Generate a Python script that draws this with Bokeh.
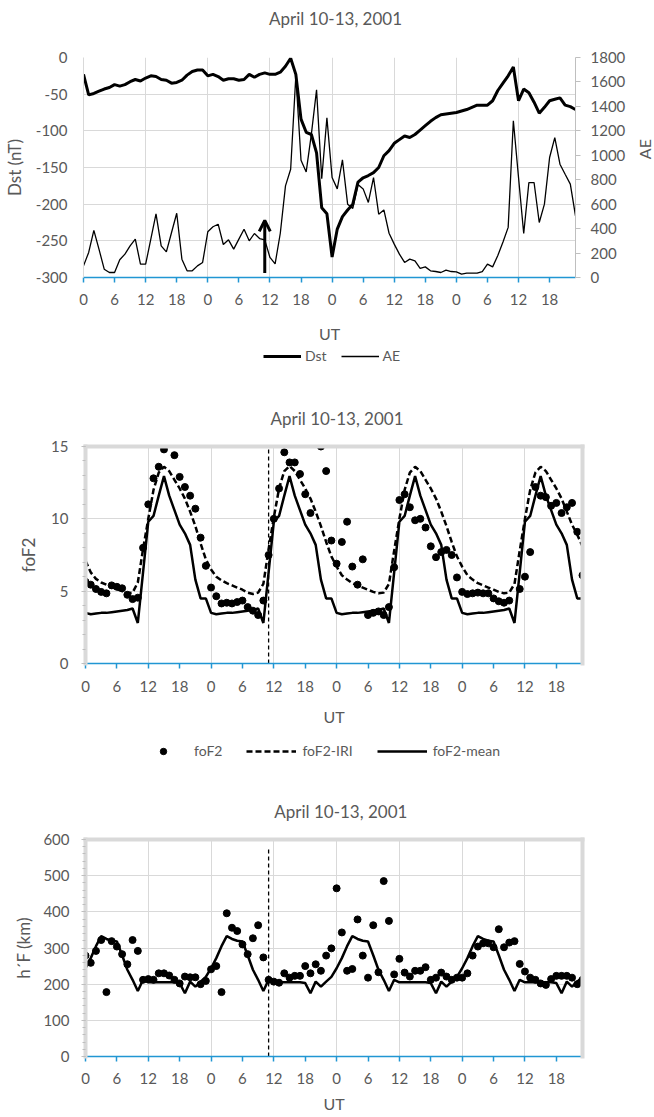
import math
from bokeh.plotting import figure
from bokeh.models import (LinearAxis, Range1d, FixedTicker, SingleIntervalTicker,
                          Legend, Arrow, OpenHead)
from bokeh.layouts import column, row
from bokeh.core.properties import value
from bokeh.embed import file_html
from bokeh.resources import INLINE

FONT = "Lato"
TEXT = "#595959"
GRID = "#d9d9d9"
FRAME = "#d9d9d9"
TICKGRAY = "#bfbfbf"
BLUE = "#2196d3"
W = 654

# ---------------- data ----------------
hours = list(range(96))
x_ticks = list(range(0, 96, 6))
x_tick_labels = ["0", "6", "12", "18", "0", "6", "12", "18",
                 "0", "6", "12", "18", "0", "6", "12", "18"]
x_grid = list(range(0, 96, 12))
title_text = "April 10-13, 2001"

dst_ticks = [-300, -250, -200, -150, -100, -50, 0]
dst_tick_labels = ["-300", "-250", "-200", "-150", "-100", "-50", "0"]
ae_ticks = [0, 200, 400, 600, 800, 1000, 1200, 1400, 1600, 1800]

dst = [-23, -51, -49, -46, -43, -41, -37, -39, -37, -33, -30, -32,
       -28, -25, -26, -30, -31, -35, -34, -31, -24, -19, -17, -17,
       -25, -23, -26, -31, -29, -29, -31, -30, -23, -27, -23, -21,
       -23, -23, -20, -12, -1, -23, -84, -102, -105, -130, -205, -213,
       -272, -234, -217, -208, -200, -170, -164, -161, -157, -150, -134, -127,
       -117, -112, -107, -109, -105, -99, -93, -87, -82, -78, -77, -76,
       -75, -73, -71, -68, -65, -65, -65, -59, -45, -35, -25, -13,
       -59, -43, -48, -61, -76, -68, -59, -57, -55, -65, -67, -71]

ae = [95, 205, 385, 230, 68, 41, 41, 145, 191, 259, 314, 109,
      109, 314, 520, 259, 210, 368, 526, 150, 55, 55, 95, 123,
      374, 415, 436, 270, 308, 232, 314, 395, 300, 360, 319, 308,
      164, 112, 362, 750, 886, 1650, 960, 864, 1173, 1535, 808, 1306,
      818, 725, 963, 600, 565, 760, 725, 614, 818, 518, 553, 362,
      273, 191, 123, 150, 136, 74, 87, 55, 49, 41, 60, 49,
      46, 27, 35, 35, 35, 49, 109, 87, 180, 290, 410, 1282,
      818, 360, 777, 777, 450, 600, 982, 1145, 927, 845, 764, 505]

onset_hour = 35
arrow_dst_start = -294
arrow_dst_end = -222

fof2_obs = [5.65, 5.45, 5.15, 4.95, 4.85, 5.4, 5.3, 5.2, 4.75, 4.45, 4.55, 8.0,
            11.0, 12.8, 13.6, 14.8, None, 14.4, 12.9, 12.2, 11.6, 10.7, 8.7, 6.75,
            5.25, 4.65, 4.15, 4.2, 4.15, 4.25, 4.35, 3.9, 3.65, 3.35, 4.35, 7.5,
            10.0, 12.1, 14.6, 13.9, 13.9, 13.1, 11.7, 10.4, None, 15.0, 13.3, 8.5,
            6.9, 8.4, 9.8, 6.7, 5.45, 7.2, 3.35, 3.5, 3.6, 3.35, 3.9, 6.65,
            11.3, 11.7, 10.8, 9.9, 10.0, 9.4, 8.1, 7.35, 7.7, 7.85, 7.5, 5.95,
            4.95, 4.8, 4.85, 4.9, 4.85, 4.85, 4.5, 4.3, 4.2, 4.35, None, 5.15,
            6.0, 7.7, 12.2, 11.6, 11.5, 10.9, 11.1, 10.4, 10.8, 11.1, 9.1, 6.1]

fof2_iri = [7.1, 6.3, 5.85, 5.6, 5.45, 5.3, 5.15, 5.0, 4.85, 4.9, 5.6, 7.9,
            10.0, 12.0, 13.2, 13.6, 13.3, 12.7, 12.1, 11.4, 10.5, 9.5, 8.3, 7.2,
            6.5, 6.0, 5.75, 5.55, 5.4, 5.25, 5.1, 4.9, 4.8, 4.9, 5.5, 7.9,
            10.1, 12.1, 13.3, 13.65, 13.3, 12.7, 12.1, 11.4, 10.5, 9.5, 8.4, 7.4,
            6.7, 6.1, 5.8, 5.55, 5.4, 5.25, 5.1, 4.95, 4.85, 4.9, 5.5, 7.8,
            10.0, 12.0, 13.2, 13.6, 13.3, 12.7, 12.1, 11.4, 10.5, 9.5, 8.4, 7.4,
            6.7, 6.1, 5.8, 5.55, 5.4, 5.25, 5.1, 4.95, 4.85, 4.9, 5.5, 7.8,
            10.0, 12.0, 13.2, 13.6, 13.3, 12.7, 12.1, 11.4, 10.5, 9.6, 8.9, 8.1]

fof2_mean = [3.5, 3.4, 3.45, 3.5, 3.5, 3.55, 3.6, 3.65, 3.7, 3.8, 2.8, 6.3,
             9.8, 10.2, 11.6, 12.95, 11.6, 10.6, 9.6, 9.0, 8.2, 5.8, 4.5, 4.5,
             3.5, 3.4, 3.45, 3.5, 3.5, 3.55, 3.6, 3.65, 3.7, 3.8, 2.8, 6.3,
             9.8, 10.2, 11.6, 12.95, 11.6, 10.6, 9.6, 9.0, 8.2, 5.8, 4.5, 4.5,
             3.5, 3.4, 3.45, 3.5, 3.5, 3.55, 3.6, 3.65, 3.7, 3.8, 2.8, 6.3,
             9.8, 10.2, 11.6, 12.95, 11.6, 10.6, 9.6, 9.0, 8.2, 5.8, 4.5, 4.5,
             3.5, 3.4, 3.45, 3.5, 3.5, 3.55, 3.6, 3.65, 3.7, 3.8, 2.8, 6.3,
             9.8, 10.2, 11.6, 12.95, 11.6, 10.6, 9.6, 9.0, 8.2, 5.8, 4.5, 4.5]

hf_obs = [279, 259, 292, 322, 178, 319, 304, 283, 255, 322, 292, 212,
          214, 212, 230, 230, 224, 212, 202, 221, 219, 219, 200, 209,
          241, 250, 178, 396, 356, 347, 310, 283, 327, 363, 274, 212,
          207, 204, 230, 218, 223, 223, 250, 230, 255, 237, 279, 299,
          465, 343, 237, 242, 379, 279, 218, 363, 233, 485, 375, 227,
          270, 232, 221, 237, 237, 247, 212, 218, 232, 221, 212, 218,
          218, 230, 279, 304, 313, 313, 302, 352, 302, 315, 319, 256,
          235, 218, 212, 202, 198, 214, 223, 223, 223, 218, 200, 212]

hf_mean = [244, 272, 305, 333, 325, 320, 318, 280, 240, 212, 181, 212,
           205, 205, 205, 205, 205, 205, 203, 175, 207, 193, 207, 220,
           244, 272, 305, 333, 325, 320, 318, 280, 240, 212, 181, 212,
           205, 205, 205, 205, 205, 205, 203, 175, 207, 193, 207, 220,
           244, 272, 305, 333, 325, 320, 318, 280, 240, 212, 181, 212,
           205, 205, 205, 205, 205, 205, 203, 175, 207, 193, 207, 220,
           244, 272, 305, 333, 325, 320, 318, 280, 240, 212, 181, 212,
           205, 205, 205, 205, 205, 205, 203, 175, 207, 193, 207, 220]

obs_h = [h for h, v in zip(hours, fof2_obs) if v is not None]
obs_v = [v for v in fof2_obs if v is not None]


# ---------------- helpers ----------------
def make_fig(width, height, top, bottom, left, right, y0, y1,
             label_standoff, axis_label_standoff):
    p = figure(width=width, height=height, x_range=Range1d(0, 95),
               y_range=Range1d(y0, y1), output_backend="svg",
               toolbar_location=None, title=None, min_border_top=top,
               min_border_bottom=bottom, min_border_left=left,
               min_border_right=right, background_fill_color="white",
               border_fill_color="white")
    p.outline_line_color = None
    ax = p.xaxis[0]
    ax.ticker = FixedTicker(ticks=x_ticks)
    ax.major_label_overrides = dict(zip(x_ticks, x_tick_labels))
    ax.axis_line_color = BLUE
    ax.axis_line_width = 1.5
    ax.major_tick_line_color = BLUE
    ax.major_tick_line_width = 1.5
    ax.major_tick_in = 0
    ax.major_tick_out = 5
    ax.minor_tick_line_color = None
    ax.major_label_text_font = FONT
    ax.major_label_text_font_size = "15px"
    ax.major_label_text_color = TEXT
    ax.major_label_standoff = label_standoff
    ax.axis_label = "UT"
    ax.axis_label_text_font = FONT
    ax.axis_label_text_font_size = "16px"
    ax.axis_label_text_font_style = "normal"
    ax.axis_label_text_color = TEXT
    ax.axis_label_standoff = axis_label_standoff
    p.xgrid.ticker = FixedTicker(ticks=x_grid)
    p.xgrid.grid_line_color = GRID
    p.ygrid.grid_line_color = GRID
    return p


def style_yaxis(ax, label, label_standoff, axis_label_standoff):
    ax.axis_label = label
    ax.axis_label_text_font = FONT
    ax.axis_label_text_font_size = "17px"
    ax.axis_label_text_font_style = "normal"
    ax.axis_label_text_color = TEXT
    ax.axis_label_standoff = axis_label_standoff
    ax.major_label_text_font = FONT
    ax.major_label_text_font_size = "15px"
    ax.major_label_text_color = TEXT
    ax.major_label_standoff = label_standoff


def border_axis():
    a = LinearAxis(ticker=FixedTicker(ticks=[]))
    a.major_tick_out = 0
    a.major_tick_in = 0
    a.minor_tick_out = 0
    a.minor_tick_in = 0
    a.major_label_standoff = 0
    a.major_label_text_font_size = "0px"
    a.axis_line_color = FRAME
    a.axis_line_width = 4
    a.axis_line_cap = "square"
    return a


def framed_left_axis(p, ticker):
    ax = p.yaxis[0]
    ax.ticker = ticker
    ax.axis_line_color = FRAME
    ax.axis_line_width = 4
    ax.axis_line_cap = "square"
    ax.major_tick_line_color = TICKGRAY
    ax.minor_tick_line_color = TICKGRAY
    ax.major_tick_in = 0
    ax.major_tick_out = 4
    ax.minor_tick_in = 0
    ax.minor_tick_out = 3
    p.add_layout(border_axis(), "above")
    p.add_layout(border_axis(), "right")
    return ax


def strip(width, height):
    s = figure(width=width, height=height, x_range=Range1d(0, width),
               y_range=Range1d(0, height), output_backend="svg",
               toolbar_location=None, title=None,
               x_axis_location=None, y_axis_location=None, min_border=0,
               background_fill_color="white", border_fill_color="white")
    s.grid.visible = False
    s.outline_line_color = None
    return s


def strip_text(s, x, y, txt, size, angle=0.0):
    s.text(x=[x], y=[y], text=[txt], angle=angle, text_align="center",
           text_baseline="middle", text_font=value(FONT),
           text_font_size=size, text_color=TEXT)


def add_legend(s, items, loc, glyph_width, spacing, standoff):
    leg = Legend(items=items, orientation="horizontal", location=loc,
                 border_line_color=None, background_fill_alpha=0,
                 inactive_fill_alpha=0, margin=0, padding=0,
                 glyph_width=glyph_width, glyph_height=16, label_height=16,
                 label_standoff=standoff, spacing=spacing,
                 label_text_font=FONT, label_text_font_size="14px",
                 label_text_color=TEXT)
    s.add_layout(leg)


# ---------------- strip 1: title ----------------
s1 = strip(W, 40)
strip_text(s1, 329, 22, title_text, "17px")

# ---------------- panel 1: Dst / AE ----------------
P1H = 305
p1 = make_fig(634, P1H, 17, 68, 80, 59, -300, 0, 11, 16)
ya = p1.yaxis[0]
ya.ticker = FixedTicker(ticks=dst_ticks)
ya.major_label_overrides = dict(zip(dst_ticks, dst_tick_labels))
ya.axis_line_color = GRID
ya.major_tick_out = 0
ya.major_tick_in = 0
ya.major_tick_line_color = None
ya.minor_tick_line_color = None
style_yaxis(ya, "Dst (nT)", 16, 8)

p1.extra_y_ranges = {"ae": Range1d(0, 1800)}
ae_axis = LinearAxis(y_range_name="ae", ticker=FixedTicker(ticks=ae_ticks))
ae_axis.axis_line_color = TICKGRAY
ae_axis.major_tick_line_color = TICKGRAY
ae_axis.major_tick_in = 0
ae_axis.major_tick_out = 5
ae_axis.minor_tick_line_color = None
ae_axis.major_label_text_font = FONT
ae_axis.major_label_text_font_size = "15px"
ae_axis.major_label_text_color = TEXT
ae_axis.major_label_standoff = 10
p1.add_layout(ae_axis, "right")

p1.line(hours, dst, line_color="black", line_width=3)
p1.line(hours, ae, y_range_name="ae", line_color="black", line_width=1.3)
p1.add_layout(Arrow(end=OpenHead(size=11, line_width=3, line_color="black"),
                    x_start=onset_hour, y_start=arrow_dst_start,
                    x_end=onset_hour, y_end=arrow_dst_end,
                    line_width=3, line_color="black"))

ae_strip = strip(20, P1H)
strip_text(ae_strip, 10, P1H - 127, "AE", "16px", angle=math.pi / 2)

# ---------------- strip 2: legend 1 + title 2 ----------------
s2 = strip(W, 86)
l_dst = s2.line(hours, dst, line_color="black", line_width=3, visible=False)
l_ae = s2.line(hours, ae, line_color="black", line_width=1.3, visible=False)
add_legend(s2, [("Dst", [l_dst]), ("AE", [l_ae])], (178, 67), 38, 14, 4)
strip_text(s2, 331, 13, title_text, "17px")

# ---------------- panel 2: foF2 ----------------
p2 = make_fig(W, 297, 15, 64, 81, 72, 0, 15, 12, 12)
ya2 = framed_left_axis(p2, SingleIntervalTicker(interval=5, num_minor_ticks=5))
style_yaxis(ya2, "foF2", 13, 9)

p2.line([onset_hour, onset_hour], [0, 15], line_color="black", line_width=1.3,
        line_dash="4 3")
p2.line(hours, fof2_iri, line_color="black", line_width=2.5, line_dash="6 3")
p2.line(hours, fof2_mean, line_color="black", line_width=2.5)
p2.scatter(obs_h, obs_v, size=7, color="black")

# ---------------- strip 3: legend 2 + title 3 ----------------
s3 = strip(W, 97)
l_obs = s3.scatter(obs_h, obs_v, size=7, color="black", visible=False)
l_iri = s3.line(hours, fof2_iri, line_color="black", line_width=2.5,
                line_dash="6 3", visible=False)
l_mean = s3.line(hours, fof2_mean, line_color="black", line_width=2.5,
                 visible=False)
add_legend(s3, [("foF2", [l_obs]), ("foF2-IRI", [l_iri]),
                ("foF2-mean", [l_mean])], (53, 66), 50, 24, 6)
strip_text(s3, 336, 14, title_text, "17px")

# ---------------- panel 3: h'F ----------------
p3 = make_fig(W, 291, 14, 60, 85, 66, 0, 600, 11, 7)
ya3 = framed_left_axis(p3, SingleIntervalTicker(interval=100, num_minor_ticks=5))
style_yaxis(ya3, "h\u00b4F (km)", 12, 6)

p3.line([onset_hour, onset_hour], [0, 580], line_color="black", line_width=1.3,
        line_dash="4 3")
p3.line(hours, hf_mean, line_color="black", line_width=2.5)
p3.scatter(hours, hf_obs, size=7, color="black")

layout = column(s1, row(p1, ae_strip, spacing=0), s2, p2, s3, p3, spacing=0)
open("out.html", "w").write(file_html(layout, INLINE))
